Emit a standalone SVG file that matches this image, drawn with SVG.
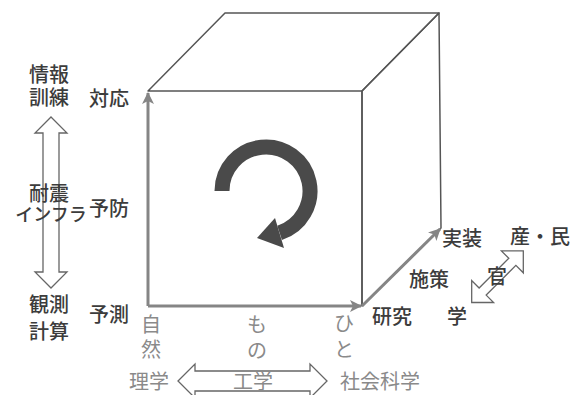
<svg xmlns="http://www.w3.org/2000/svg" width="571" height="395" viewBox="0 0 571 395">
<style>
.t{font-family:"Noto Sans CJK JP","Noto Sans",sans-serif;font-size:20px;font-weight:500;fill:#3c3c3c;text-anchor:middle;dominant-baseline:central}
.lt{fill:#8a8a8a;font-weight:400}
.edge{fill:none;stroke:#555;stroke-width:1.5;stroke-linejoin:round}
.axis{fill:none;stroke:#858585;stroke-width:3}
.dbl{fill:none;stroke:#666;stroke-width:1.3;stroke-linejoin:miter}
</style>
<defs>
<marker id="ah" viewBox="0 0 12 12" refX="11" refY="6" markerWidth="12" markerHeight="12" markerUnits="userSpaceOnUse" orient="auto">
<path d="M0,0 L12,6 L0,12 L3,6 Z" fill="#858585"/>
</marker>
</defs>
<rect width="571" height="395" fill="#fff"/>
<g id="cube">
<path class="edge" d="M362,91 L362,306"/>
<path class="edge" d="M148,91 L225,13 L439,13 L362,91 Z" fill="#fff"/>
<path class="edge" d="M362,91 L439,13 L441,228 L362,306 Z" fill="#f7f7f7"/>
</g>
<g id="connectors">
<path class="axis" d="M148,306 L148,93" marker-end="url(#ah)"/>
<path class="axis" d="M148,306 L361,306" marker-end="url(#ah)"/>
<path class="axis" d="M362,306 L440,229" marker-end="url(#ah)"/>
</g>
<g id="cycle">
<path d="M222,191 A44,44 0 1 1 279.6,232.8" fill="none" stroke="#4a4a4a" stroke-width="15"/>
<polygon points="284,248 275,218 257,238" fill="#4a4a4a"/>
</g>
<g id="left-axis">
<polygon class="dbl" points="51,117 67,133 59,133 59,272 67,272 51,288 35,272 43,272 43,133 35,133"/>
<text class="t" x="49" y="73">情報</text>
<text class="t" x="49" y="96">訓練</text>
<text class="t" x="49" y="192">耐震</text>
<text class="t" x="51" y="213" style="font-size:18px">インフラ</text>
<text class="t" x="49" y="303">観測</text>
<text class="t" x="49" y="330">計算</text>
<text class="t" x="109" y="97">対応</text>
<text class="t" x="109" y="207">予防</text>
<text class="t" x="109" y="313">予測</text>
</g>
<g id="bottom-axis">
<polygon class="dbl" points="178,381 195,364 195,371 310,371 310,364 327,381 310,398 310,391 195,391 195,398" stroke="#888"/>
<text class="t lt" x="151" y="323">自</text>
<text class="t lt" x="151" y="348">然</text>
<text class="t lt" x="257" y="323">も</text>
<text class="t lt" x="257" y="349">の</text>
<text class="t lt" x="344" y="322">ひ</text>
<text class="t lt" x="344" y="348">と</text>
<text class="t lt" x="149" y="380">理学</text>
<text class="t lt" x="253" y="380">工学</text>
<text class="t lt" x="380" y="380">社会科学</text>
</g>
<g id="depth-axis">
<polygon class="dbl" transform="translate(497.5,276.7) rotate(-45)" points="-36.5,0 -21,-15.5 -21,-5 21,-5 21,-15.5 36.5,0 21,15.5 21,5 -21,5 -21,15.5"/>
<text class="t" x="462" y="237">実装</text>
<text class="t" x="429" y="278">施策</text>
<text class="t" x="392" y="315">研究</text>
<text class="t" x="457" y="315">学</text>
<text class="t" x="497" y="275">官</text>
<text class="t" x="540" y="235">産・民</text>
</g>
</svg>
